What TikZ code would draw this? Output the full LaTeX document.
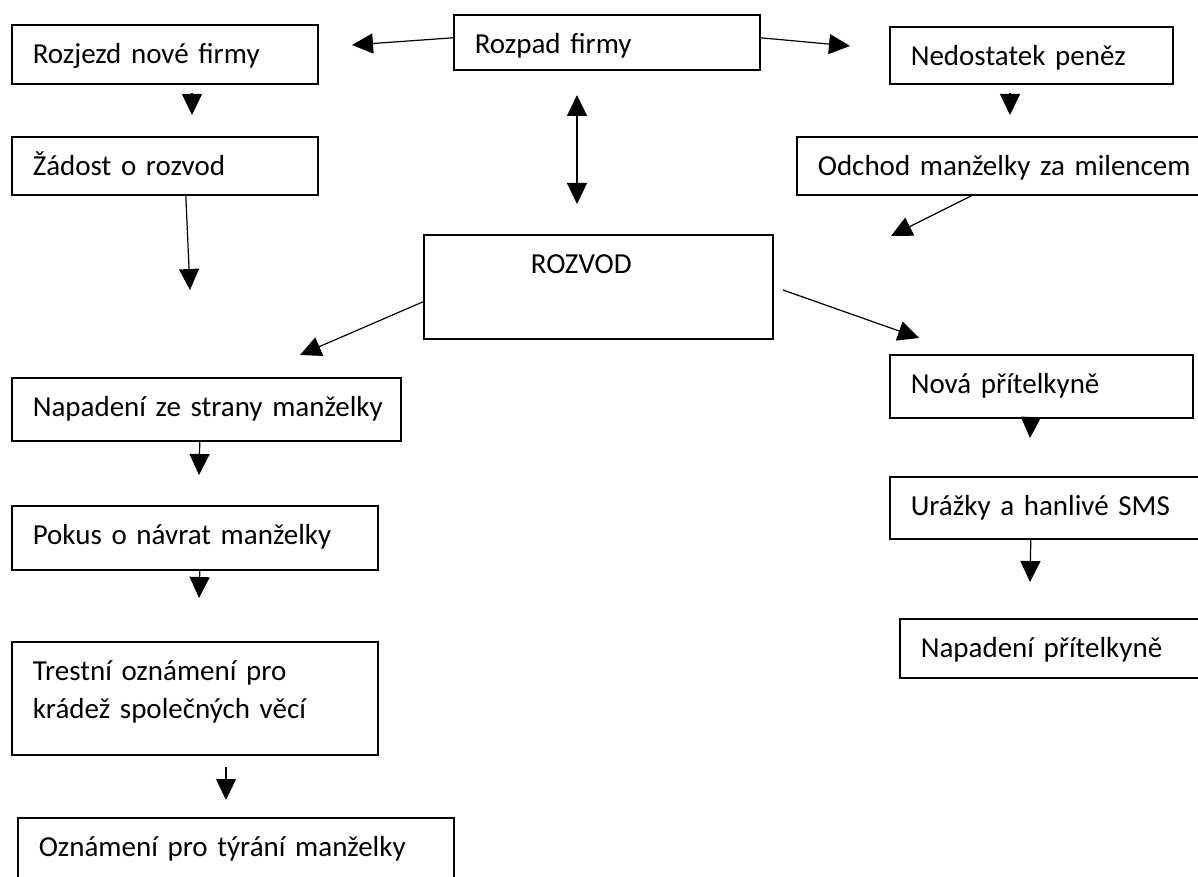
\documentclass[tikz,border=0pt]{standalone}
\usepackage{fontspec}
\setmainfont{Carlito}
\usetikzlibrary{arrows.meta,calc}
\tikzstyle{box} = [draw=black, line width=0.8pt, anchor=north west, inner xsep=10.5pt, inner ysep=0pt, text height=19.25pt, align=left]
\tikzstyle{arrow} = [line width=0.6pt, -{Triangle[length=10.5pt,width=10pt]}]
\tikzstyle{biarrow} = [line width=0.6pt, {Triangle[length=10.5pt,width=10pt]}-{Triangle[length=10.5pt,width=10pt]}]

\begin{document}
\begin{tikzpicture}[x=0.5pt, y=-0.5pt, font=\fontsize{14.5}{19}\selectfont]
\useasboundingbox (0,0) rectangle (1198,877);
\clip (0,0) rectangle (1198,877);
% boxes
\node (rozpad) at (453,14) [box, text width=132pt, text depth=8.25pt] {Rozpad firmy};
\node (rozjezd) at (11,24) [box, text width=132pt, text depth=10.25pt] {Rozjezd nové firmy};
\node (nedostatek) at (889,26) [box, text width=120.5pt, text depth=9.25pt] {Nedostatek peněz};
\node (zadost) at (11,136) [box, text width=132pt, text depth=9.75pt] {Žádost o rozvod};
\node (odchod) at (796,136) [box, text width=189pt, text depth=9.75pt] {\mbox{Odchod manželky za milencem}};
\node (rozvod) at (423,234) [box, text width=153.5pt, text depth=32.75pt] {\hspace*{43pt}ROZVOD};
\node (napadeni) at (11,377) [box, text width=173.5pt, text depth=12.25pt] {\mbox{Napadení ze strany manželky}};
\node (nova) at (889,354) [box, text width=130.5pt, text depth=12.25pt] {Nová přítelkyně};
\node (pokus) at (11,505) [box, text width=162pt, text depth=12.75pt] {\mbox{Pokus o návrat manželky}};
\node (urazky) at (889,476) [box, text width=139pt, text depth=11.75pt] {\mbox{Urážky a hanlivé SMS}};
\node (trestni) at (11,641) [box, text width=162pt, text depth=37.25pt] {Trestní oznámení pro\\krádež společných věcí};
\node (napadenip) at (899,618) [box, text width=134pt, text depth=10.25pt] {Napadení přítelkyně};
\node (oznameni) at (17,817) [box, text width=197pt, text depth=20.75pt] {\mbox{Oznámení pro týrání manželky}};
% free ends
\coordinate (t1) at (352,45);
\coordinate (t2) at (850,46);
\coordinate (s3) at (192,93);
\coordinate (t3) at (192,115);
\coordinate (s4) at (1010,93);
\coordinate (t4) at (1010,115);
\coordinate (t5) at (190,290);
\coordinate (s6) at (577,95);
\coordinate (t6) at (577,204);
\coordinate (t7) at (891,236);
\coordinate (t8) at (300,355);
\coordinate (s9) at (783,290);
\coordinate (t9) at (919,338);
\coordinate (t10) at (199,475);
\coordinate (t11) at (199,598);
\coordinate (s12) at (226,767);
\coordinate (t12) at (226,800);
\coordinate (t13) at (1030,438);
\coordinate (t14) at (1030,582);
% arrows
\draw[arrow] ($(rozpad.west)+(0,-4.5)$) -- (t1);
\draw[arrow] ($(rozpad.east)+(0,-4.5)$) -- (t2);
\draw[arrow] (s3) -- (t3);
\draw[arrow] (s4) -- (t4);
\draw[arrow] ($(zadost.south)+(21,0)$) -- (t5);
\draw[biarrow] (s6) -- (t6);
\draw[arrow] ($(odchod.south)+(-35,0)$) -- (t7);
\draw[arrow] ($(rozvod.west)+(0,15)$) -- (t8);
\draw[arrow] (s9) -- (t9);
\draw[arrow] ($(napadeni.south)+(-6.5,0)$) -- (t10);
\draw[arrow] ($(pokus.south)+(5,0)$) -- (t11);
\draw[arrow] (s12) -- (t12);
\draw[arrow] ($(nova.south)+(-10.5,0)$) -- (t13);
\draw[arrow] ($(urazky.south)+(-19,0)$) -- (t14);
\end{tikzpicture}
\end{document}
